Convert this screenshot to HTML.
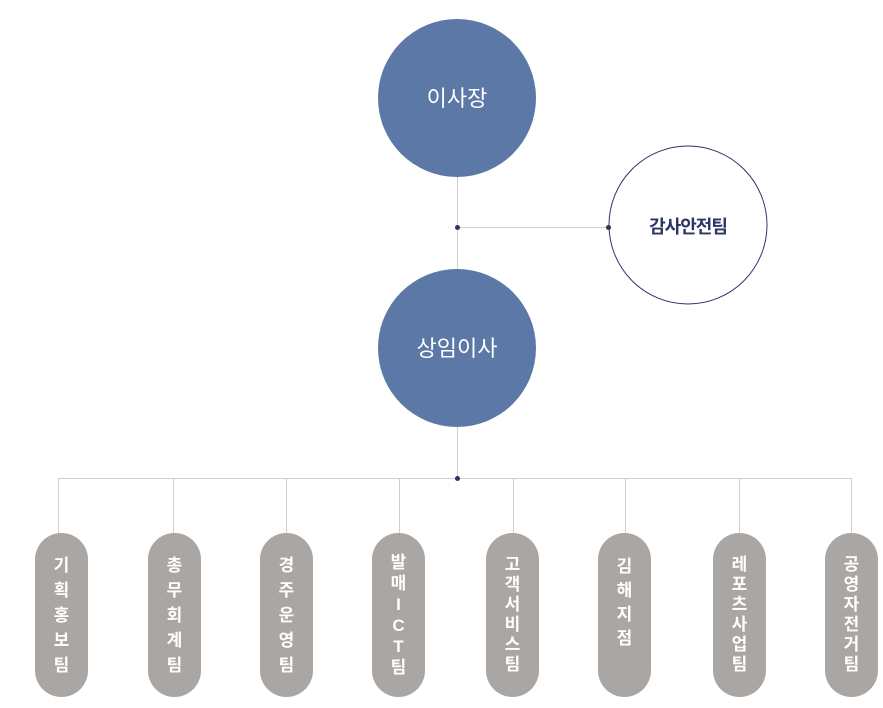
<!DOCTYPE html>
<html><head><meta charset="utf-8"><style>
body{margin:0;width:883px;height:708px;background:#fff;position:relative;overflow:hidden;font-family:"Liberation Sans","Noto Sans CJK KR",sans-serif}
.pill{position:absolute;top:533px;width:53px;height:164px;border-radius:27px;background:#a9a6a4;color:#fff;font-weight:bold;font-size:17px;display:flex;flex-direction:column;align-items:center;justify-content:center}
.pill span{display:block;text-align:center}
</style></head><body>
<svg width="883" height="708" style="position:absolute;left:0;top:0">
<g stroke="#cfcfcf" stroke-width="1" fill="none">
<line x1="457.5" y1="177" x2="457.5" y2="270"/>
<line x1="457.5" y1="426" x2="457.5" y2="478"/>
<line x1="457" y1="227.5" x2="609" y2="227.5"/>
<line x1="58.5" y1="478.5" x2="851.5" y2="478.5"/>
<line x1="58.5" y1="478" x2="58.5" y2="534"/>
<line x1="173.5" y1="478" x2="173.5" y2="534"/>
<line x1="286.5" y1="478" x2="286.5" y2="534"/>
<line x1="399.5" y1="478" x2="399.5" y2="534"/>
<line x1="513.5" y1="478" x2="513.5" y2="534"/>
<line x1="625.5" y1="478" x2="625.5" y2="534"/>
<line x1="739.5" y1="478" x2="739.5" y2="534"/>
<line x1="851.5" y1="478" x2="851.5" y2="534"/>
</g>
<circle cx="457" cy="98" r="79" fill="#5b78a7"/>
<circle cx="457" cy="348" r="79" fill="#5b78a7"/>
<circle cx="688" cy="225" r="79" fill="#fff" stroke="#2e3464" stroke-width="1"/>
<g fill="#2e3464"><circle cx="457.5" cy="227.5" r="2.5"/><circle cx="608.5" cy="227.5" r="2.5"/><circle cx="457.5" cy="478.5" r="2.5"/></g>
<text x="457" y="106" fill="#fff" font-size="22" text-anchor="middle" font-family="Liberation Sans, Noto Sans CJK KR, sans-serif">이사장</text>
<text x="457" y="356" fill="#fff" font-size="22" text-anchor="middle" font-family="Liberation Sans, Noto Sans CJK KR, sans-serif">상임이사</text>
<text x="688" y="233" fill="#2e3464" font-size="18" font-weight="bold" text-anchor="middle" letter-spacing="-1" font-family="Liberation Sans, Noto Sans CJK KR, sans-serif">감사안전팀</text>
</svg>
<div class="pill" style="left:35px;line-height:25px"><span>기</span><span>획</span><span>홍</span><span>보</span><span>팀</span></div>
<div class="pill" style="left:148px;line-height:25px"><span>총</span><span>무</span><span>회</span><span>계</span><span>팀</span></div>
<div class="pill" style="left:260px;line-height:25px"><span>경</span><span>주</span><span>운</span><span>영</span><span>팀</span></div>
<div class="pill" style="left:372px;line-height:21px"><span>발</span><span>매</span><span>I</span><span>C</span><span>T</span><span>팀</span></div>
<div class="pill" style="left:486px;line-height:20px"><span>고</span><span>객</span><span>서</span><span>비</span><span>스</span><span>팀</span></div>
<div class="pill" style="left:598px;line-height:24px;justify-content:flex-start;padding-top:22px;box-sizing:border-box"><span>김</span><span>해</span><span>지</span><span>점</span></div>
<div class="pill" style="left:713px;line-height:20px"><span>레</span><span>포</span><span>츠</span><span>사</span><span>업</span><span>팀</span></div>
<div class="pill" style="left:825px;line-height:20px"><span>공</span><span>영</span><span>자</span><span>전</span><span>거</span><span>팀</span></div>
</body></html>
